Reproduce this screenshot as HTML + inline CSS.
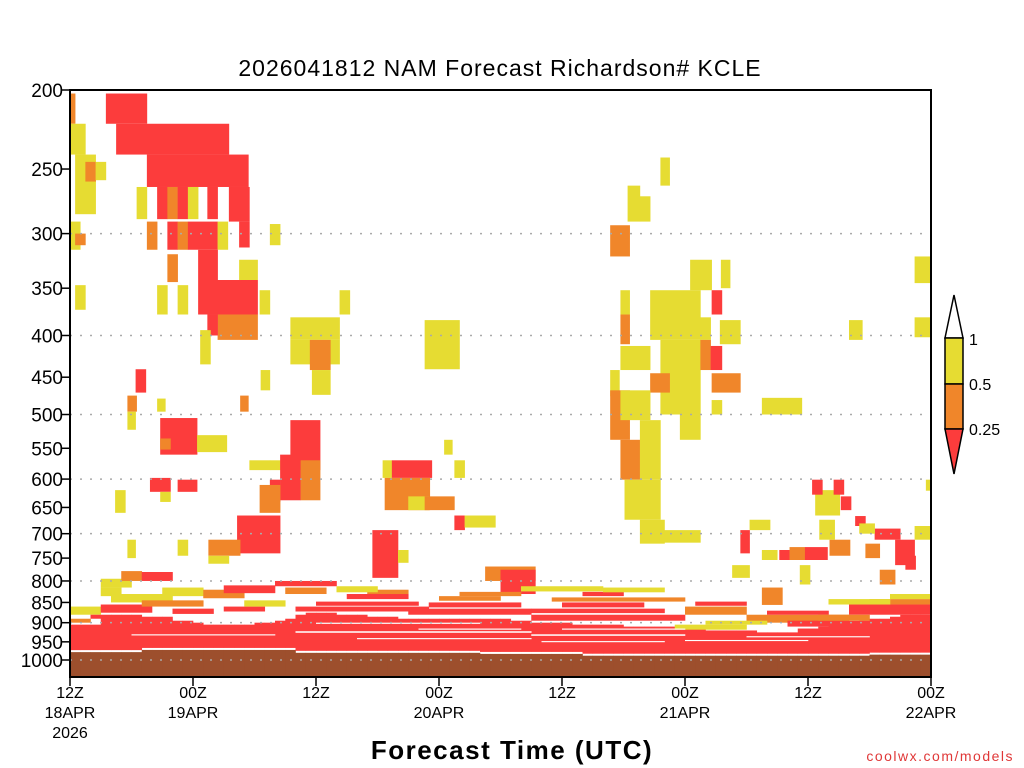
<!DOCTYPE html>
<html><head><meta charset="utf-8">
<style>
html,body{margin:0;padding:0;background:#fff;}
svg{display:block;font-family:"Liberation Sans",sans-serif;}
</style></head>
<body>
<svg id="chart" width="1024" height="768" viewBox="0 0 1024 768" xmlns="http://www.w3.org/2000/svg">
<text x="500" y="76" text-anchor="middle" font-size="23" fill="#000" letter-spacing="1">2026041812 NAM Forecast Richardson# KCLE</text>
<g id="band"></g>
<g id="cells"></g>
<g id="grid"></g>
<g id="axes"></g>
<text x="512" y="759" text-anchor="middle" font-size="26" font-weight="bold" letter-spacing="1.5" fill="#000">Forecast Time (UTC)</text>
<text x="1014" y="761" text-anchor="end" font-size="14" fill="#e03838" letter-spacing="1.5">coolwx.com/models</text>
<g id="legend">
  <polygon points="945,338 963,338 954,295" fill="#fff" stroke="#000" stroke-width="1.5"/>
  <rect x="945" y="338" width="18" height="46" fill="#e6dc32" stroke="#000" stroke-width="1.5"/>
  <rect x="945" y="384" width="18" height="45" fill="#f0862a" stroke="#000" stroke-width="1.5"/>
  <polygon points="945,429 963,429 954,474" fill="#fc3c3c" stroke="#000" stroke-width="1.5"/>
  <text x="969" y="345" font-size="16">1</text>
  <text x="969" y="390" font-size="16">0.5</text>
  <text x="969" y="435" font-size="16">0.25</text>
</g>
</svg>
<script>
// ---- data ----
const pressureTicks = [200,250,300,350,400,450,500,550,600,650,700,750,800,850,900,950,1000];
const gridPressures = [300,400,500,600,700,800,900,1000];
const timeTickHours = [0,12,24,36,48,60,72,84];
const timeTickLabels1 = ["12Z","00Z","12Z","00Z","12Z","00Z","12Z","00Z"];
const timeTickLabels2 = ["18APR","19APR","","20APR","","21APR","","22APR"];
const timeTickLabels3 = ["2026","","","","","","",""];
const categoryColors = ["#ffffff", "#fc3c3c", "#f0862a", "#e6dc32"];
// solid low-level red band top pressure per forecast hour (0..84)
const pblTop = [905,905,905,885,880,880,880,885,885,885,895,895,900,905,905,905,905,905,900,900,895,890,880,875,875,875,880,880,880,885,885,885,890,890,890,890,890,890,890,890,890,890,890,895,895,900,900,900,900,905,905,905,905,905,910,910,910,910,910,915,915,915,920,920,920,920,920,925,925,925,925,915,915,910,905,905,900,895,890,890,885,880,880,880,880];
// surface pressure per forecast hour
const groundP = [978,978,978,978,978,978,978,972,972,972,972,972,972,972,972,972,972,972,972,972,972,972,980,980,980,980,980,980,980,980,980,980,980,980,980,980,980,980,980,980,983,983,983,983,983,983,983,983,983,983,988,988,988,988,988,988,988,988,988,988,988,988,988,988,988,988,988,988,988,988,988,988,988,988,988,988,988,988,985,985,985,985,985,985,985];
// cells: [hourStart, hourEnd, pTop, pBottom, category(0=none,1=<0.25,2=0.25-0.5,3=0.5-1)]
const cells = [
[0,0.5,202,220,2],[0,1.5,220,240,3],[0.5,2.5,240,284,3],[1.5,2.5,245,259,2],[2.5,3.5,245,258,3],
[3.5,7.5,202,220,1],[4.5,15.5,220,240,1],[7.5,17.4,240,263,1],
[8.5,9.5,263,288,1],[9.5,10.5,263,288,2],[10.5,11.5,263,288,1],[11.5,12.5,263,288,3],[13.4,14.4,263,288,1],[15.5,17.5,263,290,1],[6.5,7.5,263,288,3],
[7.5,8.5,290,314,2],[9.5,10.5,290,314,1],[10.5,11.5,290,314,2],[11.5,14.4,290,314,1],[14.4,15.4,290,314,3],[16.5,17.5,290,312,1],[19.5,20.5,292,310,3],[0,1,290,314,3],[0.5,1.5,300,310,2],
[12.5,14.4,314,342,1],[9.5,10.5,318,344,2],[16.5,18.3,323,342,3],
[12.5,18.3,342,377,1],[8.5,9.5,347,377,3],[10.5,11.5,347,377,3],[0.5,1.5,347,372,3],[18.5,19.5,352,377,3],
[14.4,18.3,377,405,2],[13.4,14.4,377,400,1],[12.7,13.7,394,434,3],[26.3,27.3,352,377,3],
[21.5,26.3,380,405,3],[21.5,23.4,405,434,3],[25.4,26.3,405,434,3],[23.4,25.4,405,441,2],[23.6,25.4,441,473,3],
[34.6,38,383,440,3],[18.6,19.5,441,467,3],
[6.4,7.4,440,470,1],[5.6,6.5,474,496,2],[5.6,6.4,496,522,3],[8.5,9.3,478,496,3],
[8.8,12.4,505,560,1],[8.8,9.8,535,552,2],[12.4,15.3,530,556,3],[16.6,17.4,474,496,2],
[19.5,20.5,569,585,3],[21.5,24.4,508,585,1],[20.5,22.5,560,637,1],[22.5,24.4,569,637,2],[19.5,20.5,601,640,1],[18.5,20.5,610,660,2],[17.5,19.5,569,585,3],
[16.3,20.5,665,740,1],[13.5,16.6,712,745,2],[10.5,11.5,712,745,3],[13.5,15.5,745,762,3],
[7.8,9.8,598,622,1],[10.5,12.4,601,622,1],[8.8,9.8,622,640,3],[4.4,5.4,619,660,3],[5.6,6.4,712,750,3],
[29.5,32,693,793,1],[30.5,31.4,569,598,3],[31.4,35.3,569,598,1],[30.7,35.1,598,655,2],[33,35,630,655,3],[34.6,37.5,630,655,2],[37.5,38.5,665,693,1],[38.5,41.5,665,688,3],[37.5,38.5,569,598,3],[36.5,37.3,537,560,3],[32,33,733,760,3],
[40.5,45.4,768,800,2],[42,45.4,775,830,1],
[52.7,54.6,293,320,2],[54.4,55.6,262,290,3],[57.6,58.5,242,262,3],[55.6,56.6,270,290,3],
[53.7,54.6,352,377,3],[53.7,54.6,377,410,2],[53.7,56.6,412,441,3],[56.6,61.5,352,405,3],[60.5,62.6,323,352,3],[63.5,64.4,323,350,3],[62.6,63.6,352,377,1],[61.5,62.5,380,405,3],[63.4,65.4,383,410,3],
[57.6,61.5,405,500,3],[61.5,62.5,405,441,2],[62.5,63.6,412,441,1],[56.6,58.5,445,470,2],[62.6,65.4,445,470,2],[62.6,63.6,480,500,3],
[52.7,53.6,441,475,3],[52.7,54.6,467,537,2],[53.7,56.6,467,508,3],[53.7,55.6,537,601,2],[55.6,57.6,508,601,3],[54.1,57.6,601,673,3],[55.6,58,673,720,3],[58,61.5,693,718,3],[59.5,61.5,500,537,3],
[67.5,71.4,477,500,3],[76,77.3,383,405,3],[82.4,84,320,345,3],[82.4,84,380,402,3],
[72.7,75.1,619,665,3],[72.4,73.4,601,627,1],[74.5,75.5,601,627,1],[75.2,76.2,630,655,1],[76.6,77.6,666,685,1],[74.1,76.1,712,745,2],[73.1,74.6,673,712,3],[77.6,79,720,750,2],[78.5,81,690,712,1],[77,78.5,680,700,3],[80.5,82.4,712,765,1],[79,80.5,775,808,2],[82.4,84,685,712,3],[83.5,84,601,620,3],[81.5,82.5,745,775,1],
[66.3,68.3,673,693,3],[65.4,66.3,693,740,1],[67.5,69,733,754,3],[69.2,70.2,733,754,1],[70.2,71.7,727,754,2],[64.6,66.3,765,793,3],[71.2,72.2,765,808,3],[67.5,69.5,815,856,2],[71.7,73.9,727,754,1],
[0,3,860,880,3],[3,8,855,875,1],[4,10,830,850,3],[7,13,845,860,2],[9,13,815,835,3],[13,17,820,840,2],[15,20,810,828,1],[20,26,800,812,1],[21,25,815,830,2],[10,14,865,878,1],[3,6,795,815,3],[5,7,778,800,2],[7,10,780,800,1],[3,5,815,835,3],[2,4,880,890,1],[0,2,890,900,2],[15,19,860,872,1],[17,21,845,860,3],
[22,35,860,872,1],[24,34,848,858,1],[27,33,830,842,1],[29,33,820,830,2],[33,45,865,880,1],[35,44,850,862,1],[36,42,835,846,2],[26,30,812,826,3],[38,44,825,835,2],
[45,60,880,895,1],[45,58,865,876,1],[48,56,850,862,1],[47,60,838,848,2],[50,54,825,835,1],[44,52,812,824,3],[52,58,815,826,3],
[60,66,860,880,2],[61,66,848,858,1],[66,76,880,900,2],[68,74,870,880,1],[70,80,895,910,1],[76,84,855,880,1],[78,84,842,855,2],[80,84,830,842,3],[73,78,880,895,2],[59,66,905,918,3],[62,68,895,905,3],[74,80,842,855,3],
[22,45,922,926,0],[24,40,900,903,0],[28,45,940,943,0],[45,60,930,934,0],[46,58,948,951,0],[6,20,930,933,0],[60,72,945,948,0],[34,44,915,918,0],[48,60,915,918,0],[66,78,935,938,0]
];
// ---- scales ----
const X0 = 70, X1 = 931, Y0 = 90, YB = 677;
const hoursTotal = 84;
function xScale(h){ return X0 + (X1 - X0) * h / hoursTotal; }
const yK = (660 - 90) / Math.log(1000/200);
function yScale(p){ return Math.min(YB, Y0 + yK * Math.log(p / 200)); }
const NS = "http://www.w3.org/2000/svg";
function mk(tag, attrs, parent){ const e = document.createElementNS(NS, tag); for (const k in attrs) e.setAttribute(k, attrs[k]); parent.appendChild(e); return e; }

const gBand = document.getElementById('band');
for (let h = 0; h < hoursTotal; h++) {
  const yt = yScale(pblTop[h]);
  const yg = yScale(groundP[h]);
  const band = mk('rect', {x: xScale(h), y: yt, width: xScale(h+1) - xScale(h) + 0.3, height: Math.max(0, yg - 2 - yt), fill: categoryColors[1]}, gBand);
  
  
  const gr = mk('rect', {x: xScale(h), y: yg, width: xScale(h+1) - xScale(h) + 0.3, height: YB - yg, fill: "#9d4f2d"}, gBand);
  
  
}
const gCells = document.getElementById('cells');
cells.forEach(c => {
  const r = mk('rect', {x: xScale(c[0]), y: yScale(c[2]), width: xScale(c[1]) - xScale(c[0]) + 0.3, height: Math.max(1, yScale(c[3]) - yScale(c[2])), fill: categoryColors[c[4]]}, gCells);
  
  
});
const gGrid = document.getElementById('grid');
gridPressures.forEach(p => {
  const l = mk('line', {x1: X0, x2: X1, y1: yScale(p), y2: yScale(p), stroke: "#aaa", "stroke-width": 1.5, "stroke-dasharray": "2,8"}, gGrid);
  
  
});
const gAx = document.getElementById('axes');
const frame = mk('rect', {x: X0, y: Y0, width: X1 - X0, height: YB - Y0, fill: "none", stroke: "#000", "stroke-width": 2}, gAx);


pressureTicks.forEach(p => {
  const y = yScale(p);
  const t = mk('line', {x1: X0 - 8, x2: X0, y1: y, y2: y, stroke: "#000", "stroke-width": 1.5}, gAx);
  
  
  const tx = mk('text', {x: 63, y: y + 7, "text-anchor": "end", "font-size": 19, fill: "#000"}, gAx);
  tx.textContent = p;
  
  
});
timeTickHours.forEach((h, i) => {
  const x = xScale(h);
  const t = mk('line', {x1: x, x2: x, y1: YB, y2: YB + 9, stroke: "#000", "stroke-width": 1.5}, gAx);
  
  
  [timeTickLabels1[i], timeTickLabels2[i], timeTickLabels3[i]].forEach((s, j) => {
    if (!s) return;
    const tx = mk('text', {x: x, y: 698 + 20 * j, "text-anchor": "middle", "font-size": 16, fill: "#000"}, gAx);
    tx.textContent = s;
    
    
  });
});
</script>
</body></html>
